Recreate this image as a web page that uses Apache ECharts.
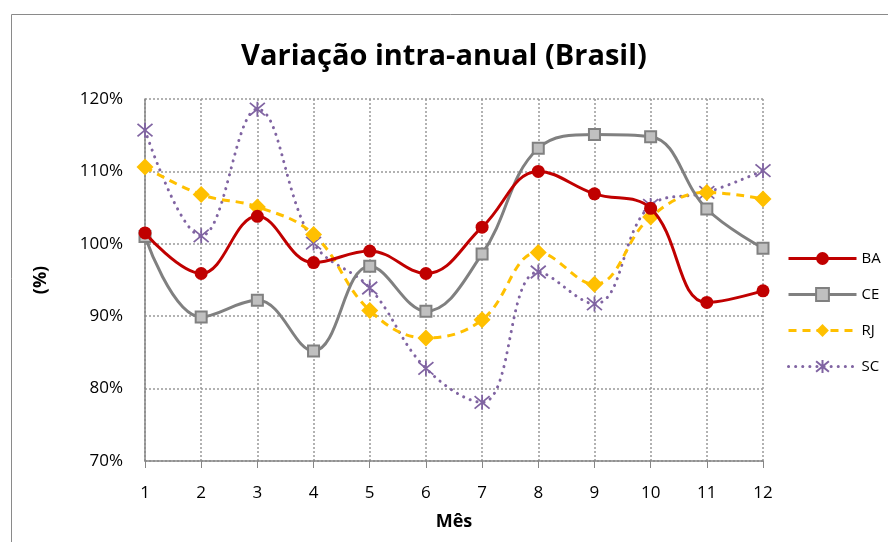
<!DOCTYPE html>
<html>
<head>
<meta charset="utf-8">
<script src="https://cdn.jsdelivr.net/npm/echarts@6/dist/echarts.min.js"></script>
<style>html,body{margin:0;padding:0;background:#fff;}#c{width:888px;height:542px;}</style>
</head>
<body>
<div id="c"></div>
<script>
const months = ['1','2','3','4','5','6','7','8','9','10','11','12'];
const BA = [101.5, 95.9, 103.8, 97.4, 99.0, 95.9, 102.3, 110.0, 106.9, 104.9, 91.9, 93.5];
const CE = [101.0, 89.9, 92.2, 85.2, 96.9, 90.7, 98.6, 113.2, 115.1, 114.8, 104.8, 99.4];
const RJ = [110.6, 106.8, 105.1, 101.3, 90.8, 87.0, 89.5, 98.8, 94.4, 103.7, 107.1, 106.2];
const SC = [115.7, 101.1, 118.6, 100.1, 93.9, 82.8, 78.1, 96.1, 91.7, 105.3, 107.1, 110.1];
const yTicks = [70, 80, 90, 100, 110, 120];

const FONT = '"Open Sans", "Noto Sans", sans-serif';
const chart = echarts.init(document.getElementById('c'), null, {renderer: 'canvas'});
const smooth = 0.4;
const starPath = 'path://M0,0L10,10M10,0L0,10M5,-1L5,11';

chart.setOption({
  animation: false,
  backgroundColor: '#fff',
  textStyle: {fontFamily: FONT},
  graphic: [{
    type: 'rect', left: 9, top: 12, shape: {width: 900, height: 600},
    style: {fill: 'none', stroke: '#8a8a8a', lineWidth: 1}, silent: true
  }],
  title: {
    text: 'Variação intra-anual (Brasil)',
    left: 'center', top: 37,
    textStyle: {fontFamily: FONT, fontSize: 29, fontWeight: 'bold', color: '#000'}
  },
  legend: {
    orient: 'vertical', left: 782, top: 246, itemGap: 21,
    itemWidth: 68, itemHeight: 16,
    textStyle: {fontFamily: FONT, fontSize: 15, color: '#000'},
    data: [
      {name: 'BA', lineStyle: {width: 3}},
      {name: 'CE', lineStyle: {width: 3}},
      {name: 'RJ', lineStyle: {width: 3}},
      {name: 'SC', lineStyle: {width: 3}}
    ]
  },
  grid: {left: 145, right: 125, top: 99, bottom: 81, containLabel: false},
  xAxis: {
    type: 'category', data: months, boundaryGap: false,
    name: 'Mês', nameLocation: 'middle', nameGap: 52,
    nameTextStyle: {fontFamily: FONT, fontSize: 18, fontWeight: 'bold', color: '#000'},
    axisLine: {lineStyle: {color: '#868686', width: 1.5}},
    axisTick: {show: true, length: 7, inside: false, alignWithLabel: true, lineStyle: {color: '#868686'}},
    axisLabel: {fontFamily: FONT, fontSize: 17, color: '#000', margin: 24},
    splitLine: {show: true, lineStyle: {color: '#999', type: [2, 2], width: 1.5}}
  },
  yAxis: {
    type: 'value', min: 70, max: 120, interval: 10,
    name: '(%)', nameLocation: 'middle', nameGap: 95, nameRotate: 90,
    nameTextStyle: {fontFamily: FONT, fontSize: 18, fontWeight: 'bold', color: '#000'},
    axisLine: {show: true, lineStyle: {color: '#868686', width: 1.5}},
    axisTick: {show: false},
    axisLabel: {fontFamily: FONT, fontSize: 17, color: '#000', margin: 22,
      formatter: v => yTicks.includes(v) ? v + '%' : ''},
    splitLine: {show: true, lineStyle: {color: '#999', type: [2, 2], width: 1.5}}
  },
  series: [
    {name: 'BA', type: 'line', data: BA, smooth: smooth, z: 4,
     symbol: 'circle', symbolSize: 13,
     lineStyle: {color: '#C00000', width: 3},
     itemStyle: {color: '#C00000'}},
    {name: 'CE', type: 'line', data: CE, smooth: smooth, z: 3,
     symbol: 'rect', symbolSize: 11,
     lineStyle: {color: '#808080', width: 3},
     itemStyle: {color: '#C0C0C0', borderColor: '#808080', borderWidth: 2}},
    {name: 'RJ', type: 'line', data: RJ, smooth: smooth, z: 2,
     symbol: 'diamond', symbolSize: 17,
     lineStyle: {color: '#FFC000', width: 3, type: [8, 6]},
     itemStyle: {color: '#FFC000'}},
    {name: 'SC', type: 'line', data: SC, smooth: smooth, z: 1,
     symbol: starPath, symbolSize: 15,
     lineStyle: {color: '#8064A2', width: 3, type: [0.1, 7], cap: 'round'},
     itemStyle: {color: '#8064A2', borderColor: '#8064A2', borderWidth: 1.8}}
  ]
});
</script>
</body>
</html>
